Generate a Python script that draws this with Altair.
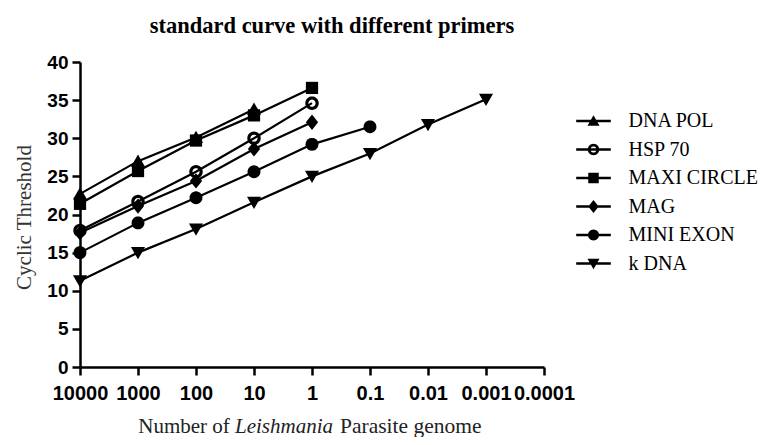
import math
import altair as alt
import pandas as pd

# ---------------- data ----------------
x_labels = ["10000", "1000", "100", "10", "1", "0.1", "0.01", "0.001", "0.0001"]
series = ["DNA POL", "HSP 70", "MAXI CIRCLE", "MAG", "MINI EXON", "\u00a0k DNA"]

dna_pol = [22.7, 27.0, 30.1, 33.8]
hsp_70 = [17.9, 21.7, 25.6, 30.0, 34.6]
maxi_circle = [21.4, 25.7, 29.7, 33.0, 36.6]
mag = [17.6, 21.1, 24.4, 28.6, 32.1]
mini_exon = [15.0, 18.9, 22.2, 25.6, 29.2, 31.5]
k_dna = [11.3, 15.0, 18.1, 21.6, 25.0, 28.0, 31.8, 35.1]

values = [dna_pol, hsp_70, maxi_circle, mag, mini_exon, k_dna]
rows = []
for name, vals in zip(series, values):
    for lab, v in zip(x_labels, vals):
        rows.append({"series": name, "dose": lab, "ct": v})
df = pd.DataFrame(rows)

# ---------------- marker paths (all drawn clockwise) ----------------
def poly(r, n=28, reverse=False):
    pts = []
    for i in range(n):
        a = 2 * math.pi * i / n
        if reverse:
            a = -a
        pts.append((r * math.cos(a), r * math.sin(a)))
    s = "M%.3f,%.3f" % pts[0]
    for p in pts[1:]:
        s += "L%.3f,%.3f" % p
    return s + "Z"

tri_up = "M0,-1.1L1.15,0.9L-1.15,0.9Z"
tri_down = "M0,1.1L-1.15,-0.9L1.15,-0.9Z"
square = "M-1,-1H1V1H-1Z"
diamond = "M0,-1.25L1,0L0,1.25L-1,0Z"
disc = poly(1.05)
ring = poly(1.1) + poly(0.58, reverse=True)
plot_shapes = [tri_up, ring, square, diamond, disc, tri_down]
seg = "M-3.3,-0.25L3.3,-0.25L3.3,0.25L-3.3,0.25Z"
legend_shapes = [p + seg for p in plot_shapes]

serif = "Liberation Serif"
sans = "Liberation Sans"

x_enc = alt.X(
    "dose:N",
    sort=x_labels,
    scale=alt.Scale(type="point", padding=0, domain=x_labels),
    axis=alt.Axis(
        title=None, labelAngle=0, labelFont=sans, labelFontSize=20,
        labelFontWeight="bold", labelColor="black", labelPadding=8,
        labelOverlap=False, tickSize=8, tickWidth=2.5, tickColor="black",
        domainColor="black", domainWidth=2.5,
    ),
)
y_enc = alt.Y(
    "ct:Q",
    scale=alt.Scale(domain=[0, 40], nice=False),
    axis=alt.Axis(
        values=list(range(0, 41, 5)), title="Cyclic Threshold",
        titleFont=serif, titleFontSize=21, titleFontWeight="normal",
        titleColor="#333333", titleX=-50, titleY=155, titleAngle=-90,
        titleBaseline="alphabetic", titleAlign="center",
        labelFont=sans, labelFontSize=19, labelFontWeight="bold",
        labelColor="black", labelPadding=4, tickSize=8, tickWidth=2.5,
        tickColor="black", domainColor="black", domainWidth=2.5,
    ),
)

base = alt.Chart(df)

lines = base.mark_line(color="black", strokeWidth=2.2).encode(
    x=x_enc, y=y_enc, detail="series:N"
)

point_layers = [
    base.transform_filter(alt.datum.series == name).mark_point(
        shape=path, filled=True, color="black", size=150, opacity=1
    ).encode(x=x_enc, y=y_enc)
    for name, path in zip(series, plot_shapes)
]

legend_layer = base.transform_filter("datum.ct < 0").mark_point(
    filled=True, color="black", size=110, opacity=1
).encode(
    x=x_enc, y=y_enc,
    shape=alt.Shape(
        "series:N",
        scale=alt.Scale(domain=series, range=legend_shapes),
        legend=alt.Legend(
            orient="none", legendX=503.5, legendY=49, title=None,
            symbolSize=110, symbolFillColor="black", labelFont=serif,
            labelFontSize=20, labelColor="black", labelOffset=25,
            rowPadding=8.5, padding=0, labelLimit=300,
        ),
    ),
)

one = pd.DataFrame({"k": [0]})
t1 = alt.Chart(one).mark_text(font=serif, fontSize=21, align="left", baseline="alphabetic", color="#222222").encode(
    x=alt.value(58.3), y=alt.value(371.3), text=alt.value("Number of"))
t2 = alt.Chart(one).mark_text(font=serif, fontSize=21, fontStyle="italic", align="left", baseline="alphabetic", color="#222222").encode(
    x=alt.value(155.0), y=alt.value(371.3), text=alt.value("Leishmania"))
t3 = alt.Chart(one).mark_text(font=serif, fontSize=21.5, align="left", baseline="alphabetic", color="#222222").encode(
    x=alt.value(260.0), y=alt.value(371.3), text=alt.value("Parasite genome"))

chart = alt.layer(lines, *point_layers, legend_layer, t1, t2, t3).properties(
    width=464,
    height=305,
    padding={"left": 72, "top": 54, "right": 219, "bottom": 70},
    autosize=alt.AutoSizeParams(type="none"),
    title=alt.TitleParams(
        "standard curve with different primers", font=serif, fontSize=22.5,
        fontWeight="bold", color="black", anchor="middle", dx=20, dy=27,
        offset=25, baseline="alphabetic",
    ),
).configure_view(stroke=None).configure_axis(grid=False)

chart.save("out.html", embed_options={"renderer": "svg", "actions": False})
